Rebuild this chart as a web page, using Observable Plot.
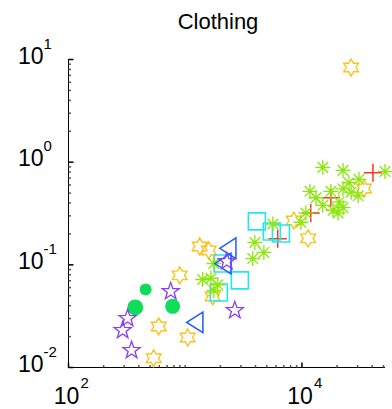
<!DOCTYPE html>
<html>
<head>
<meta charset="utf-8">
<script src="https://cdn.jsdelivr.net/npm/d3@7"></script>
<script src="https://cdn.jsdelivr.net/npm/@observablehq/plot@0.6"></script>
<style>
  html, body { margin: 0; padding: 0; background: #fff; }
  #chart svg { display: block; }
</style>
</head>
<body>
<div id="chart"></div>
<script>
// Clothing — log–log scatter, one marker style per group

const title = "Clothing";

// axis extents and labelled decades
const xDomain = [100, 52000];
const yDomain = [0.01, 10];
const xMajor = [100, 10000];
const yMajor = [0.01, 0.1, 1, 10];

// red plus markers
const plusX = [40600, 17700, 11900, 6200];
const plusY = [0.79, 0.45, 0.32, 0.18];

// green asterisks
const starX = [15100, 22500, 51500, 30800, 25300, 22500, 26400, 30300, 11700, 17700,
               15100, 20800, 22500, 20400, 18500, 10800, 9800, 5640, 3950, 4720,
               3790, 1410, 1660, 1900, 1760, 1760, 13200];
const starY = [0.89, 0.83, 0.81, 0.68, 0.63, 0.55, 0.51, 0.47, 0.52, 0.52,
               0.38, 0.41, 0.36, 0.32, 0.34, 0.32, 0.26, 0.25, 0.165, 0.132,
               0.115, 0.072, 0.074, 0.064, 0.103, 0.056, 0.45];

// cyan squares
const squareX = [4110, 5520, 6610, 2100, 2940, 1940];
const squareY = [0.265, 0.211, 0.202, 0.103, 0.0705, 0.0538];

// blue left-pointing triangles
const triX = [2360, 2140, 1230];
const triY = [0.145, 0.103, 0.0275];

// purple pentagrams
const pentX = [2270, 751, 2660, 321, 291, 347];
const pentY = [0.108, 0.0551, 0.036, 0.0301, 0.023, 0.0147];

// gold hexagrams
const hexX = [26400, 34000, 8530, 11300, 1330, 1590, 897, 1720, 593, 1050, 537];
const hexY = [8.36, 0.554, 0.27, 0.181, 0.151, 0.138, 0.0789, 0.0492, 0.0251, 0.0196, 0.0123];

// filled green discs
const discX = [458, 373, 781];
const discY = [0.0575, 0.0385, 0.0394];
const discR = [6, 8, 7.5];

const pts = (xs, ys) => xs.map((x, i) => ({x, y: ys[i], i}));

// marker shapes (size = r*r*PI, as Plot passes it)
const rad = (s) => Math.sqrt(s / Math.PI);
function star(c, n, R, ir) {
  for (let k = 0; k < 2 * n; ++k) {
    const a = -Math.PI / 2 + (k * Math.PI) / n;
    const rr = k % 2 ? ir : R;
    const px = rr * Math.cos(a), py = rr * Math.sin(a);
    k ? c.lineTo(px, py) : c.moveTo(px, py);
  }
  c.closePath();
}
const symPlus = {draw(c, s) { const r = rad(s);
  c.moveTo(-r, 0); c.lineTo(r, 0); c.moveTo(0, -r); c.lineTo(0, r); }};
const symAsterisk = {draw(c, s) { const r = rad(s), d = r * Math.SQRT1_2;
  c.moveTo(-r, 0); c.lineTo(r, 0); c.moveTo(0, -r); c.lineTo(0, r);
  c.moveTo(-d, -d); c.lineTo(d, d); c.moveTo(-d, d); c.lineTo(d, -d); }};
const symSquare = {draw(c, s) { const r = rad(s); c.rect(-r, -r, 2 * r, 2 * r); }};
const symTriLeft = {draw(c, s) { const r = rad(s);
  c.moveTo(-r, 0); c.lineTo(0.8 * r, -1.15 * r); c.lineTo(0.8 * r, 1.15 * r); c.closePath(); }};
const symPentagram = {draw(c, s) { const r = rad(s); star(c, 5, r, 0.4 * r); }};
const symHexagram = {draw(c, s) { const r = rad(s); star(c, 6, r, 0.577 * r); }};
const tickMark = (dx, dy) => ({draw(c) { c.moveTo(0, 0); c.lineTo(dx, dy); }});

// minor ticks at 2..9 × each decade
const minors = ([lo, hi]) => {
  const out = [];
  for (let e = Math.floor(Math.log10(lo)); e <= Math.ceil(Math.log10(hi)); ++e)
    for (let m = 2; m <= 9; ++m) { const v = m * 10 ** e; if (v > lo && v < hi) out.push(v); }
  return out;
};
const xMinor = minors(xDomain).concat([1000]);
const yMinor = minors(yDomain);
const expo = (d) => String(Math.round(Math.log10(d)));

const font = "'Liberation Sans', Arial, Helvetica, sans-serif";

const chart = Plot.plot({
  width: 392,
  height: 409,
  marginLeft: 68,
  marginRight: 7,
  marginTop: 59,
  marginBottom: 42,
  style: {fontFamily: font, background: "#fff", color: "#000"},
  x: {type: "log", domain: xDomain, axis: null},
  y: {type: "log", domain: yDomain, axis: null},
  r: {type: "identity"},
  marks: [
    // axis lines
    Plot.ruleX([xDomain[0]], {stroke: "#000", strokeWidth: 1}),
    Plot.ruleY([yDomain[0]], {stroke: "#000", strokeWidth: 1}),
    // inward ticks
    Plot.dot(xMajor, {x: (d) => d, frameAnchor: "bottom", symbol: tickMark(0, -5), r: 1, stroke: "#000", fill: "none"}),
    Plot.dot(xMinor, {x: (d) => d, frameAnchor: "bottom", symbol: tickMark(0, -2.5), r: 1, stroke: "#555", fill: "none"}),
    Plot.dot(yMajor, {y: (d) => d, frameAnchor: "left", symbol: tickMark(5, 0), r: 1, stroke: "#000", fill: "none"}),
    Plot.dot(yMinor, {y: (d) => d, frameAnchor: "left", symbol: tickMark(2.5, 0), r: 1, stroke: "#555", fill: "none"}),
    // tick labels: base and raised exponent
    Plot.text(yMajor, {y: (d) => d, frameAnchor: "left", text: () => "10", textAnchor: "end",
      lineAnchor: "bottom", dx: -25, dy: 4, fontSize: 23, fill: "#000"}),
    Plot.text(yMajor, {y: (d) => d, frameAnchor: "left", text: expo, textAnchor: "start",
      lineAnchor: "bottom", dx: -25, dy: -11, fontSize: 15, fill: "#000"}),
    Plot.text(xMajor, {x: (d) => d, frameAnchor: "bottom", text: () => "10", textAnchor: "middle",
      lineAnchor: "bottom", dx: -2, dy: 36, fontSize: 23, fill: "#000"}),
    Plot.text(xMajor, {x: (d) => d, frameAnchor: "bottom", text: expo, textAnchor: "start",
      lineAnchor: "bottom", dx: 12, dy: 20, fontSize: 15, fill: "#000"}),
    // title
    Plot.text([title], {frameAnchor: "top", text: (d) => d, dx: -9, dy: -38,
      lineAnchor: "middle", fontSize: 22, fill: "#000"}),
    // data groups
    Plot.dot(pts(discX, discY), {x: "x", y: "y", r: (d) => discR[d.i], fill: "#0fdc5a", stroke: "none"}),
    Plot.dot(pts(hexX, hexY), {x: "x", y: "y", symbol: symHexagram, r: 8.5, fill: "none", stroke: "#ffc21c", strokeWidth: 1.4}),
    Plot.dot(pts(plusX, plusY), {x: "x", y: "y", symbol: symPlus, r: 9, fill: "none", stroke: "#f5371f", strokeWidth: 1.5}),
    Plot.dot(pts(squareX, squareY), {x: "x", y: "y", symbol: symSquare, r: 8.5, fill: "none", stroke: "#25e6f0", strokeWidth: 1.6}),
    Plot.dot(pts(starX, starY), {x: "x", y: "y", symbol: symAsterisk, r: 7.5, fill: "none", stroke: "#8ae80a", strokeWidth: 1.3}),
    Plot.dot(pts(triX, triY), {x: "x", y: "y", symbol: symTriLeft, r: 9, fill: "none", stroke: "#1e5cff", strokeWidth: 1.5}),
    Plot.dot(pts(pentX, pentY), {x: "x", y: "y", symbol: symPentagram, r: 9, fill: "none", stroke: "#8a3df5", strokeWidth: 1.3})
  ]
});

document.getElementById("chart").appendChild(chart);
</script>
</body>
</html>
